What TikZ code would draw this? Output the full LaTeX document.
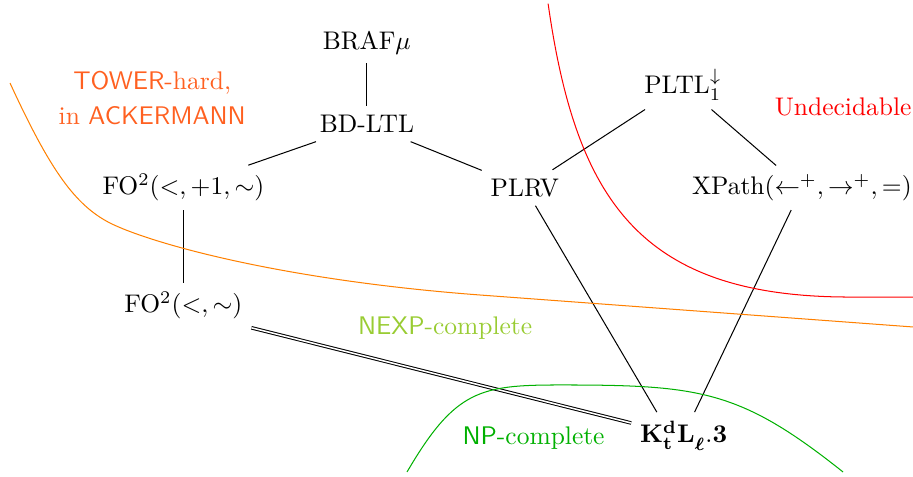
\documentclass[tikz,border=0pt]{standalone}
\usepackage{amsmath}

\definecolor{towercol}{RGB}{255,96,32}
\definecolor{towerline}{RGB}{255,128,0}
\definecolor{nexpcol}{RGB}{153,204,51}
\definecolor{npcol}{RGB}{0,176,0}

\begin{document}
\begin{tikzpicture}[logic/.style={inner sep=3.33pt},
  region/.style={line width=0.4pt}]

\useasboundingbox (0,0) rectangle (12.593,-6.579);

\node[logic] (braf) at (5.06,-0.59) {BRAF$\mu$};
\node[logic] (bdltl) at (5.06,-1.71) {BD-LTL};
\node[logic] (fotwo) at (2.53,-2.59) {FO$^2(<,+1,\sim)$};
\node[logic] (plrv) at (7.24,-2.59) {PLRV};
\node[logic] (pltl) at (9.42,-1.17) {PLTL$^{\downarrow}_1$};
\node[logic] (xpath) at (11.06,-2.59) {XPath$(\leftarrow^+,\rightarrow^+,=)$};
\node[logic] (fosim) at (2.53,-4.21) {FO$^2(<,\sim)$};
\node[logic] (kdl) at (9.43,-6.01) {$\mathbf{K^d_tL}_{\boldsymbol{\ell}}\mathbf{.3}$};

\node[text=towercol,align=center] (tower) at (2.10,-1.35) {\textsf{TOWER}-hard,\\[2pt] in \textsf{ACKERMANN}};
\node[text=red] (undec) at (11.63,-1.48) {Undecidable};
\node[text=nexpcol] (nexp) at (6.14,-4.52) {\textsf{NEXP}-complete};
\node[text=npcol] (np) at (7.36,-6.04) {\textsf{NP}-complete};

\draw (braf) -- (bdltl);
\draw (bdltl) -- (fotwo);
\draw (bdltl) -- (plrv);
\draw (pltl) -- (plrv);
\draw (pltl) -- (xpath);
\draw (fotwo) -- (fosim);
\draw (plrv) -- ([xshift=-3.7mm]kdl.north);
\draw (xpath) -- ([xshift=1.5mm]kdl.north);
\draw[double] (fosim.south east) -- ([yshift=-1.5mm]kdl.north west);

\draw[region,red] (7.56,-0.05) .. controls (7.945,-2.759) and (8.828,-4.097) .. (11.724,-4.097) -- (12.593,-4.097);
\draw[region,towerline] (0.138,-1.145) .. controls (0.69,-2.345) and (1.034,-2.828) .. (1.517,-3.076)
  .. controls (2.069,-3.352) and (3.862,-3.862) .. (6.621,-4.069) -- (12.593,-4.510);
\draw[region,npcol] (5.614,-6.510) .. controls (6.276,-5.379) and (6.621,-5.310) .. (7.724,-5.310)
  .. controls (9.655,-5.310) and (10.207,-5.379) .. (11.628,-6.510);

\end{tikzpicture}
\end{document}
